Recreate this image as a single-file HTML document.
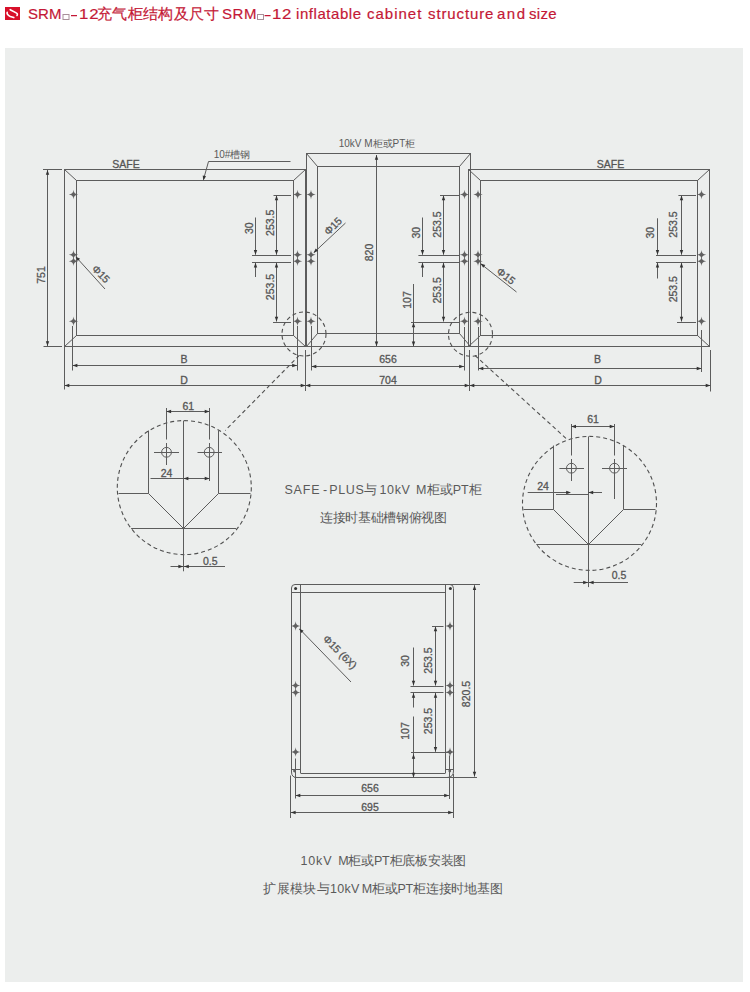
<!DOCTYPE html>
<html><head><meta charset="utf-8"><style>
html,body{margin:0;padding:0;background:#fff;width:750px;height:992px;overflow:hidden;}
body{position:relative;font-family:"Liberation Sans",sans-serif;}
.hdr{position:absolute;left:0;top:3px;font-size:14.5px;color:#c41836;-webkit-text-stroke:0.2px #c41836;white-space:nowrap;line-height:22px;}
.hdr span{position:absolute;top:0;}
svg.ico{position:absolute;left:0;top:0;}
svg.bxs{position:absolute;left:0;top:0;}
svg.bxs rect{fill:none;stroke:#a8909a;stroke-width:1;}
svg.bxs path.hy{fill:none;stroke:#c41836;stroke-width:1.4;}
.panel{position:absolute;left:5px;top:48px;width:738px;height:934px;background:#eceeed;}
svg{position:absolute;left:0;top:0;}
svg line,svg rect,svg polyline,svg path,svg circle{fill:none;stroke:#5c5c5c;stroke-width:1;}
svg .d{stroke-dasharray:4 3;stroke:#505050;stroke-width:1.1;}
svg .a{fill:#333;stroke:none;}
svg path.s{fill:#606060;stroke:none;}
svg circle.f{fill:#333;stroke:none;}
svg circle.f2{fill:#606060;stroke:none;}
svg text{font-family:"Liberation Sans",sans-serif;fill:#555;stroke:#555;stroke-width:0.3;text-anchor:middle;}
svg text.lb{fill:#5a5a5a;stroke:none;}
</style></head><body>
<svg class="ico" width="30" height="30" viewBox="0 0 30 30"><rect x="5" y="7" width="15" height="13" style="fill:#d8102a;stroke:none"/><path d="M10.2,9.7 L16.2,12.9 Q18.1,14.0 17.0,15.5 M7.2,12.3 Q6.4,14.5 10.3,16.5 L13.8,17.6" style="fill:none;stroke:#fff;stroke-width:1.6;stroke-linecap:round"/></svg>
<div class="hdr"><span style="left:28.0px;letter-spacing:0.1px;font-size:15px">SRM</span><span style="left:78.5px;letter-spacing:0.8px;font-size:15px;transform:scaleX(1.12);transform-origin:0 0">12</span><span style="left:97.0px;letter-spacing:0.314px;font-size:14.5px">充气柜结构及尺寸</span><span style="left:222.0px;letter-spacing:0.6px;font-size:15px">SRM</span><span style="left:272.2px;letter-spacing:0.6px;font-size:15px;transform:scaleX(1.12);transform-origin:0 0">12</span><span style="left:296.0px;letter-spacing:0.556px;font-size:15px">inflatable</span><span style="left:367.0px;letter-spacing:1.0px;font-size:15px">cabinet</span><span style="left:428.0px;letter-spacing:0.875px;font-size:15px">structure</span><span style="left:497.0px;letter-spacing:1.5px;font-size:15px">and</span><span style="left:529.0px;letter-spacing:0.333px;font-size:15px">size</span></div>
<svg class="bxs" width="300" height="30"><rect x="63" y="14.5" width="6" height="5" /><rect x="257.5" y="14.5" width="6" height="5"/><path class="hy" d="M71,15.6H77M264.6,15.6H270.6"/></svg>
<div class="panel"></div>
<svg width="750" height="992" viewBox="0 0 750 992">
<rect x="64.5" y="169.5" width="241.0" height="177.0"/>
<rect x="76.5" y="180.5" width="217.0" height="155.0"/>
<line x1="64.5" y1="169.5" x2="76.5" y2="180.5"/>
<line x1="305.5" y1="169.5" x2="293.5" y2="180.5"/>
<line x1="64.5" y1="346.5" x2="76.5" y2="335.5"/>
<line x1="305.5" y1="346.5" x2="293.5" y2="335.5"/>
<rect x="306.5" y="153.5" width="164.0" height="193.0"/>
<rect x="317.5" y="166.5" width="142.0" height="167.0"/>
<line x1="306.5" y1="153.5" x2="317.5" y2="166.5"/>
<line x1="470.5" y1="153.5" x2="459.5" y2="166.5"/>
<line x1="306.5" y1="346.5" x2="317.5" y2="333.5"/>
<line x1="470.5" y1="346.5" x2="459.5" y2="333.5"/>
<rect x="468.5" y="169.5" width="241.0" height="177.0"/>
<rect x="480.5" y="180.5" width="217.0" height="155.0"/>
<line x1="468.5" y1="169.5" x2="480.5" y2="180.5"/>
<line x1="709.5" y1="169.5" x2="697.5" y2="180.5"/>
<line x1="468.5" y1="346.5" x2="480.5" y2="335.5"/>
<line x1="709.5" y1="346.5" x2="697.5" y2="335.5"/>
<path class="s" d="M73.5,189.8 Q73.75,194.25 78.2,194.5 Q73.75,194.75 73.5,199.2 Q73.25,194.75 68.8,194.5 Q73.25,194.25 73.5,189.8Z"/><circle class="f2" cx="73.5" cy="194.5" r="1.25"/>
<path class="s" d="M73.5,250.0 Q73.75,254.45 78.2,254.7 Q73.75,254.95 73.5,259.4 Q73.25,254.95 68.8,254.7 Q73.25,254.45 73.5,250.0Z"/><circle class="f2" cx="73.5" cy="254.7" r="1.25"/>
<path class="s" d="M73.5,256.6 Q73.75,261.05 78.2,261.3 Q73.75,261.55 73.5,266.0 Q73.25,261.55 68.8,261.3 Q73.25,261.05 73.5,256.6Z"/><circle class="f2" cx="73.5" cy="261.3" r="1.25"/>
<path class="s" d="M73.5,316.5 Q73.75,320.95 78.2,321.2 Q73.75,321.45 73.5,325.9 Q73.25,321.45 68.8,321.2 Q73.25,320.95 73.5,316.5Z"/><circle class="f2" cx="73.5" cy="321.2" r="1.25"/>
<path class="s" d="M297.5,189.8 Q297.75,194.25 302.2,194.5 Q297.75,194.75 297.5,199.2 Q297.25,194.75 292.8,194.5 Q297.25,194.25 297.5,189.8Z"/><circle class="f2" cx="297.5" cy="194.5" r="1.25"/>
<path class="s" d="M297.5,250.0 Q297.75,254.45 302.2,254.7 Q297.75,254.95 297.5,259.4 Q297.25,254.95 292.8,254.7 Q297.25,254.45 297.5,250.0Z"/><circle class="f2" cx="297.5" cy="254.7" r="1.25"/>
<path class="s" d="M297.5,256.6 Q297.75,261.05 302.2,261.3 Q297.75,261.55 297.5,266.0 Q297.25,261.55 292.8,261.3 Q297.25,261.05 297.5,256.6Z"/><circle class="f2" cx="297.5" cy="261.3" r="1.25"/>
<path class="s" d="M297.5,316.5 Q297.75,320.95 302.2,321.2 Q297.75,321.45 297.5,325.9 Q297.25,321.45 292.8,321.2 Q297.25,320.95 297.5,316.5Z"/><circle class="f2" cx="297.5" cy="321.2" r="1.25"/>
<path class="s" d="M311,189.8 Q311.25,194.25 315.7,194.5 Q311.25,194.75 311,199.2 Q310.75,194.75 306.3,194.5 Q310.75,194.25 311,189.8Z"/><circle class="f2" cx="311" cy="194.5" r="1.25"/>
<path class="s" d="M311,250.0 Q311.25,254.45 315.7,254.7 Q311.25,254.95 311,259.4 Q310.75,254.95 306.3,254.7 Q310.75,254.45 311,250.0Z"/><circle class="f2" cx="311" cy="254.7" r="1.25"/>
<path class="s" d="M311,256.6 Q311.25,261.05 315.7,261.3 Q311.25,261.55 311,266.0 Q310.75,261.55 306.3,261.3 Q310.75,261.05 311,256.6Z"/><circle class="f2" cx="311" cy="261.3" r="1.25"/>
<path class="s" d="M311,316.5 Q311.25,320.95 315.7,321.2 Q311.25,321.45 311,325.9 Q310.75,321.45 306.3,321.2 Q310.75,320.95 311,316.5Z"/><circle class="f2" cx="311" cy="321.2" r="1.25"/>
<path class="s" d="M464.5,189.8 Q464.75,194.25 469.2,194.5 Q464.75,194.75 464.5,199.2 Q464.25,194.75 459.8,194.5 Q464.25,194.25 464.5,189.8Z"/><circle class="f2" cx="464.5" cy="194.5" r="1.25"/>
<path class="s" d="M464.5,250.0 Q464.75,254.45 469.2,254.7 Q464.75,254.95 464.5,259.4 Q464.25,254.95 459.8,254.7 Q464.25,254.45 464.5,250.0Z"/><circle class="f2" cx="464.5" cy="254.7" r="1.25"/>
<path class="s" d="M464.5,256.6 Q464.75,261.05 469.2,261.3 Q464.75,261.55 464.5,266.0 Q464.25,261.55 459.8,261.3 Q464.25,261.05 464.5,256.6Z"/><circle class="f2" cx="464.5" cy="261.3" r="1.25"/>
<path class="s" d="M464.5,316.5 Q464.75,320.95 469.2,321.2 Q464.75,321.45 464.5,325.9 Q464.25,321.45 459.8,321.2 Q464.25,320.95 464.5,316.5Z"/><circle class="f2" cx="464.5" cy="321.2" r="1.25"/>
<path class="s" d="M478,189.8 Q478.25,194.25 482.7,194.5 Q478.25,194.75 478,199.2 Q477.75,194.75 473.3,194.5 Q477.75,194.25 478,189.8Z"/><circle class="f2" cx="478" cy="194.5" r="1.25"/>
<path class="s" d="M478,250.0 Q478.25,254.45 482.7,254.7 Q478.25,254.95 478,259.4 Q477.75,254.95 473.3,254.7 Q477.75,254.45 478,250.0Z"/><circle class="f2" cx="478" cy="254.7" r="1.25"/>
<path class="s" d="M478,256.6 Q478.25,261.05 482.7,261.3 Q478.25,261.55 478,266.0 Q477.75,261.55 473.3,261.3 Q477.75,261.05 478,256.6Z"/><circle class="f2" cx="478" cy="261.3" r="1.25"/>
<path class="s" d="M478,316.5 Q478.25,320.95 482.7,321.2 Q478.25,321.45 478,325.9 Q477.75,321.45 473.3,321.2 Q477.75,320.95 478,316.5Z"/><circle class="f2" cx="478" cy="321.2" r="1.25"/>
<path class="s" d="M701.5,189.8 Q701.75,194.25 706.2,194.5 Q701.75,194.75 701.5,199.2 Q701.25,194.75 696.8,194.5 Q701.25,194.25 701.5,189.8Z"/><circle class="f2" cx="701.5" cy="194.5" r="1.25"/>
<path class="s" d="M701.5,250.0 Q701.75,254.45 706.2,254.7 Q701.75,254.95 701.5,259.4 Q701.25,254.95 696.8,254.7 Q701.25,254.45 701.5,250.0Z"/><circle class="f2" cx="701.5" cy="254.7" r="1.25"/>
<path class="s" d="M701.5,256.6 Q701.75,261.05 706.2,261.3 Q701.75,261.55 701.5,266.0 Q701.25,261.55 696.8,261.3 Q701.25,261.05 701.5,256.6Z"/><circle class="f2" cx="701.5" cy="261.3" r="1.25"/>
<path class="s" d="M701.5,316.5 Q701.75,320.95 706.2,321.2 Q701.75,321.45 701.5,325.9 Q701.25,321.45 696.8,321.2 Q701.25,320.95 701.5,316.5Z"/><circle class="f2" cx="701.5" cy="321.2" r="1.25"/>
<text class="t" x="126" y="167.68" style="font-size:10.5px">SAFE</text>
<text class="t" x="610.5" y="167.68" style="font-size:10.5px">SAFE</text>
<text class="lb" x="377" y="146.50" style="font-size:10px">10kV M柜或PT柜</text>
<text class="lb" x="232" y="157.50" style="font-size:10px">10#槽钢</text>
<polyline points="290.5,161.5 208.5,161.5 203.5,179.5"/>
<polygon class="a" points="203.30,180.50 202.72,175.44 206.04,176.21"/>
<line x1="43" y1="169.5" x2="62" y2="169.5"/>
<line x1="43.5" y1="346.5" x2="62" y2="346.5"/>
<line x1="47.5" y1="170" x2="47.5" y2="346"/>
<polygon class="a" points="47.50,170.00 49.20,174.80 45.80,174.80"/>
<polygon class="a" points="47.50,346.00 45.80,341.20 49.20,341.20"/>
<text class="t" transform="translate(41,275) rotate(-90)" x="0" y="3.67" style="font-size:10.5px">751</text>
<line x1="76" y1="257" x2="105" y2="289"/>
<polygon class="a" points="75.50,256.50 80.10,258.69 77.69,261.10"/>
<text class="t" transform="translate(101,274) rotate(45)" x="0" y="3.67" style="font-size:10.5px">Φ15</text>
<line x1="273.5" y1="195.5" x2="291" y2="195.5"/>
<line x1="252" y1="255.5" x2="291" y2="255.5"/>
<line x1="252" y1="262.5" x2="291" y2="262.5"/>
<line x1="273" y1="322.5" x2="291" y2="322.5"/>
<line x1="276.5" y1="195.5" x2="276.5" y2="254.7"/>
<polygon class="a" points="276.50,195.50 278.20,200.30 274.80,200.30"/>
<polygon class="a" points="276.50,254.70 274.80,249.90 278.20,249.90"/>
<line x1="255.5" y1="217.5" x2="255.5" y2="254.7"/>
<polygon class="a" points="255.50,254.70 253.80,249.90 257.20,249.90"/>
<line x1="255.5" y1="262.8" x2="255.5" y2="277"/>
<polygon class="a" points="255.50,262.80 257.20,267.60 253.80,267.60"/>
<line x1="276.5" y1="262.8" x2="276.5" y2="321.5"/>
<polygon class="a" points="276.50,262.80 278.20,267.60 274.80,267.60"/>
<polygon class="a" points="276.50,321.50 274.80,316.70 278.20,316.70"/>
<text class="t" transform="translate(249,228.2) rotate(-90)" x="0" y="3.67" style="font-size:10.5px">30</text>
<text class="t" transform="translate(270,222.8) rotate(-90)" x="0" y="3.67" style="font-size:10.5px">253.5</text>
<text class="t" transform="translate(270,287) rotate(-90)" x="0" y="3.67" style="font-size:10.5px">253.5</text>
<line x1="440" y1="195.5" x2="459.5" y2="195.5"/>
<line x1="418.4" y1="255.5" x2="459.5" y2="255.5"/>
<line x1="418.4" y1="262.5" x2="459.5" y2="262.5"/>
<line x1="411" y1="322.5" x2="459.5" y2="322.5"/>
<line x1="443.5" y1="195.5" x2="443.5" y2="254.7"/>
<polygon class="a" points="443.50,195.50 445.20,200.30 441.80,200.30"/>
<polygon class="a" points="443.50,254.70 441.80,249.90 445.20,249.90"/>
<line x1="422.5" y1="217.5" x2="422.5" y2="254.7"/>
<polygon class="a" points="422.50,254.70 420.80,249.90 424.20,249.90"/>
<line x1="422.5" y1="262.8" x2="422.5" y2="277"/>
<polygon class="a" points="422.50,262.80 424.20,267.60 420.80,267.60"/>
<line x1="443.5" y1="262.8" x2="443.5" y2="321.5"/>
<polygon class="a" points="443.50,262.80 445.20,267.60 441.80,267.60"/>
<polygon class="a" points="443.50,321.50 441.80,316.70 445.20,316.70"/>
<text class="t" transform="translate(416,232.7) rotate(-90)" x="0" y="3.67" style="font-size:10.5px">30</text>
<text class="t" transform="translate(437.8,224.5) rotate(-90)" x="0" y="3.67" style="font-size:10.5px">253.5</text>
<text class="t" transform="translate(437.8,290.4) rotate(-90)" x="0" y="3.67" style="font-size:10.5px">253.5</text>
<line x1="678.4" y1="195.5" x2="696" y2="195.5"/>
<line x1="656" y1="255.5" x2="696" y2="255.5"/>
<line x1="656" y1="262.5" x2="696" y2="262.5"/>
<line x1="677" y1="322.5" x2="696" y2="322.5"/>
<line x1="681.5" y1="195.5" x2="681.5" y2="254.7"/>
<polygon class="a" points="681.50,195.50 683.20,200.30 679.80,200.30"/>
<polygon class="a" points="681.50,254.70 679.80,249.90 683.20,249.90"/>
<line x1="657.5" y1="218.3" x2="657.5" y2="254.7"/>
<polygon class="a" points="657.50,254.70 655.80,249.90 659.20,249.90"/>
<line x1="657.5" y1="262.8" x2="657.5" y2="278.5"/>
<polygon class="a" points="657.50,262.80 659.20,267.60 655.80,267.60"/>
<line x1="681.5" y1="262.8" x2="681.5" y2="321.5"/>
<polygon class="a" points="681.50,262.80 683.20,267.60 679.80,267.60"/>
<polygon class="a" points="681.50,321.50 679.80,316.70 683.20,316.70"/>
<text class="t" transform="translate(650,232.7) rotate(-90)" x="0" y="3.67" style="font-size:10.5px">30</text>
<text class="t" transform="translate(673.6,224.5) rotate(-90)" x="0" y="3.67" style="font-size:10.5px">253.5</text>
<text class="t" transform="translate(673.6,289.2) rotate(-90)" x="0" y="3.67" style="font-size:10.5px">253.5</text>
<line x1="413.5" y1="284" x2="413.5" y2="346.5"/>
<polygon class="a" points="413.50,322.50 415.20,327.30 411.80,327.30"/>
<polygon class="a" points="413.50,346.30 411.80,341.50 415.20,341.50"/>
<text class="t" transform="translate(407,300) rotate(-90)" x="0" y="3.67" style="font-size:10.5px">107</text>
<line x1="376.5" y1="155" x2="376.5" y2="346.3"/>
<polygon class="a" points="376.50,155.00 378.20,159.80 374.80,159.80"/>
<polygon class="a" points="376.50,346.30 374.80,341.50 378.20,341.50"/>
<text class="t" transform="translate(369,252.5) rotate(-90)" x="0" y="3.67" style="font-size:10.5px">820</text>
<line x1="314" y1="252.5" x2="345.5" y2="223"/>
<polygon class="a" points="313.50,253.00 315.69,248.40 318.10,250.81"/>
<text class="t" transform="translate(333,226) rotate(-45)" x="0" y="3.67" style="font-size:10.5px">Φ15</text>
<line x1="481" y1="264" x2="516.5" y2="292"/>
<polygon class="a" points="480.50,263.50 485.33,265.12 483.24,267.79"/>
<text class="t" transform="translate(506,276) rotate(38)" x="0" y="3.67" style="font-size:10.5px">Φ15</text>
<line x1="64.5" y1="346.5" x2="64.5" y2="389.5"/>
<line x1="72.5" y1="326" x2="72.5" y2="370.5"/>
<line x1="297.5" y1="326" x2="297.5" y2="370.5"/>
<line x1="305.5" y1="350" x2="305.5" y2="391"/>
<line x1="311.5" y1="326" x2="311.5" y2="370.5"/>
<line x1="464.5" y1="327" x2="464.5" y2="370.5"/>
<line x1="469.5" y1="350" x2="469.5" y2="391"/>
<line x1="478.5" y1="327" x2="478.5" y2="370.5"/>
<line x1="701.5" y1="330" x2="701.5" y2="372"/>
<line x1="710.5" y1="350" x2="710.5" y2="391.5"/>
<line x1="72.6" y1="365.5" x2="297" y2="365.5"/>
<polygon class="a" points="72.60,365.50 77.40,363.80 77.40,367.20"/>
<polygon class="a" points="297.00,365.50 292.20,367.20 292.20,363.80"/>
<text class="t" x="184" y="363.18" style="font-size:10.5px">B</text>
<line x1="64.5" y1="385.5" x2="305.5" y2="385.5"/>
<polygon class="a" points="64.50,385.50 69.30,383.80 69.30,387.20"/>
<polygon class="a" points="305.50,385.50 300.70,387.20 300.70,383.80"/>
<text class="t" x="184" y="383.68" style="font-size:10.5px">D</text>
<line x1="311.5" y1="366.5" x2="464" y2="366.5"/>
<polygon class="a" points="311.50,366.50 316.30,364.80 316.30,368.20"/>
<polygon class="a" points="464.00,366.50 459.20,368.20 459.20,364.80"/>
<text class="t" x="388" y="363.18" style="font-size:10.5px">656</text>
<line x1="305.5" y1="385.5" x2="469.5" y2="385.5"/>
<polygon class="a" points="305.50,385.50 310.30,383.80 310.30,387.20"/>
<polygon class="a" points="469.50,385.50 464.70,387.20 464.70,383.80"/>
<text class="t" x="388" y="383.68" style="font-size:10.5px">704</text>
<line x1="478.5" y1="368.5" x2="701.5" y2="368.5"/>
<polygon class="a" points="478.50,368.50 483.30,366.80 483.30,370.20"/>
<polygon class="a" points="701.50,368.50 696.70,370.20 696.70,366.80"/>
<text class="t" x="597.5" y="363.18" style="font-size:10.5px">B</text>
<line x1="469.5" y1="385.5" x2="710.5" y2="385.5"/>
<polygon class="a" points="469.50,385.50 474.30,383.80 474.30,387.20"/>
<polygon class="a" points="710.50,385.50 705.70,387.20 705.70,383.80"/>
<text class="t" x="598" y="383.68" style="font-size:10.5px">D</text>
<circle class="d" cx="304" cy="334" r="22"/>
<circle class="d" cx="470.5" cy="334.3" r="22"/>
<line class="d" x1="299.3" y1="355.3" x2="225.2" y2="430.5"/>
<line class="d" x1="475" y1="355.5" x2="567.8" y2="440"/>
<circle class="d" cx="184.3" cy="487.6" r="67"/>
<line x1="183.5" y1="420.6" x2="183.5" y2="571.3000000000001"/>
<polyline points="118.5,493.5 148.5,493.5 148.5,430.5"/>
<polyline points="250.5,493.5 218.5,493.5 218.5,430.5"/>
<polyline points="148.5,493.5 183.5,528.5 218.5,493.5"/>
<line x1="131.10000000000002" y1="528.5" x2="236.10000000000002" y2="528.5"/>
<circle cx="166.5" cy="452.3" r="4.9"/>
<circle cx="209.2" cy="452.3" r="4.9"/>
<line x1="154" y1="452.5" x2="179" y2="452.5"/>
<line x1="197.5" y1="452.5" x2="222" y2="452.5"/>
<line x1="166.5" y1="408" x2="166.5" y2="439.5"/>
<line x1="166.5" y1="443" x2="166.5" y2="465"/>
<line x1="209.5" y1="408" x2="209.5" y2="439.5"/>
<line x1="209.5" y1="443" x2="209.5" y2="481"/>
<line x1="166.3" y1="411.5" x2="209.5" y2="411.5"/>
<polygon class="a" points="166.30,411.50 171.10,409.80 171.10,413.20"/>
<polygon class="a" points="209.50,411.50 204.70,413.20 204.70,409.80"/>
<text class="t" x="188.3" y="410.18" style="font-size:10.5px">61</text>
<line x1="150.5" y1="478.5" x2="210" y2="478.5"/>
<polygon class="a" points="183.60,478.50 188.40,476.80 188.40,480.20"/>
<polygon class="a" points="209.50,478.50 204.70,480.20 204.70,476.80"/>
<text class="t" x="166.5" y="476.68" style="font-size:10.5px">24</text>
<line x1="170.5" y1="566.5" x2="225" y2="566.5"/>
<polygon class="a" points="183.20,566.50 178.40,568.20 178.40,564.80"/>
<polygon class="a" points="184.00,566.50 188.80,564.80 188.80,568.20"/>
<text class="t" x="210.3" y="564.67" style="font-size:10.5px">0.5</text>
<circle class="d" cx="589.5" cy="503.4" r="67"/>
<line x1="588.5" y1="436.4" x2="588.5" y2="587.1"/>
<polyline points="523.5,509.5 553.5,509.5 553.5,445.5"/>
<polyline points="655.5,509.5 623.5,509.5 623.5,445.5"/>
<polyline points="553.5,509.5 588.5,544.5 623.5,509.5"/>
<line x1="536.3" y1="544.5" x2="641.3" y2="544.5"/>
<circle cx="571.4" cy="468.2" r="4.9"/>
<circle cx="614.5" cy="468.2" r="4.9"/>
<line x1="559.4" y1="468.5" x2="584" y2="468.5"/>
<line x1="602" y1="468.5" x2="627" y2="468.5"/>
<line x1="571.5" y1="424" x2="571.5" y2="455.5"/>
<line x1="571.5" y1="459" x2="571.5" y2="481"/>
<line x1="614.5" y1="424" x2="614.5" y2="455.5"/>
<line x1="614.5" y1="459" x2="614.5" y2="499"/>
<line x1="571.2" y1="426.5" x2="614.5" y2="426.5"/>
<polygon class="a" points="571.20,426.50 576.00,424.80 576.00,428.20"/>
<polygon class="a" points="614.50,426.50 609.70,428.20 609.70,424.80"/>
<text class="t" x="593" y="423.18" style="font-size:10.5px">61</text>
<line x1="527.7" y1="492.5" x2="568" y2="492.5"/>
<polygon class="a" points="571.00,492.50 566.20,494.20 566.20,490.80"/>
<line x1="588.4" y1="492.5" x2="602" y2="492.5"/>
<polygon class="a" points="588.40,492.50 593.20,490.80 593.20,494.20"/>
<line x1="556" y1="494.5" x2="588.4" y2="494.5"/>
<text class="t" x="543" y="490.18" style="font-size:10.5px">24</text>
<line x1="573.7" y1="582.5" x2="628" y2="582.5"/>
<polygon class="a" points="588.00,582.50 583.20,584.20 583.20,580.80"/>
<polygon class="a" points="588.80,582.50 593.60,580.80 593.60,584.20"/>
<text class="t" x="619" y="579.17" style="font-size:10.5px">0.5</text>
<text class="lb" x="302.0" y="494.38" textLength="35.05" lengthAdjust="spacing" style="font-size:12.5px">SAFE</text>
<text class="lb" x="325.1" y="494.38" textLength="11.45" lengthAdjust="spacing" style="font-size:12.5px">-</text>
<text class="lb" x="353.35" y="494.38" textLength="48.15" lengthAdjust="spacing" style="font-size:12.5px">PLUS与</text>
<text class="lb" x="394.65" y="494.38" textLength="30.55" lengthAdjust="spacing" style="font-size:12.5px">10kV</text>
<text class="lb" x="448.95" y="494.38" textLength="65.75" lengthAdjust="spacing" style="font-size:12.5px">M柜或PT柜</text>
<text class="lb" x="383.5" y="522.38" textLength="126.42" lengthAdjust="spacing" style="font-size:12.5px">连接时基础槽钢俯视图</text>
<path d="M297,777.5 Q291.5,777.5 291.5,772 L291.5,588 Q291.5,584.5 295,584.5 L480,584.5"/>
<line x1="291.5" y1="769.5" x2="300.5" y2="769.5"/>
<line x1="445.5" y1="769.5" x2="453.5" y2="769.5"/>
<line x1="300.5" y1="584.5" x2="300.5" y2="773"/>
<line x1="291.5" y1="592.5" x2="445.5" y2="592.5"/>
<line x1="300.5" y1="773.5" x2="445.5" y2="773.5"/>
<path d="M445.5,584.5 L445.5,773"/>
<path d="M450,584.5 Q453.5,584.5 453.5,588.5 L453.5,771 Q453.5,777.5 447,777.5 L294.5,777.5"/>
<line x1="297" y1="777.5" x2="477" y2="777.5"/>
<circle class="f" cx="295.6" cy="588.4" r="1.5"/>
<circle class="f" cx="450.4" cy="588.4" r="1.5"/>
<circle class="f2" cx="449.8" cy="771" r="1.4"/>
<circle class="f2" cx="294.5" cy="771" r="1.4"/>
<path class="s" d="M295.6,621.3 Q295.85,625.75 300.3,626 Q295.85,626.25 295.6,630.7 Q295.35,626.25 290.90000000000003,626 Q295.35,625.75 295.6,621.3Z"/><circle class="f2" cx="295.6" cy="626" r="1.25"/>
<path class="s" d="M450,621.3 Q450.25,625.75 454.7,626 Q450.25,626.25 450,630.7 Q449.75,626.25 445.3,626 Q449.75,625.75 450,621.3Z"/><circle class="f2" cx="450" cy="626" r="1.25"/>
<path class="s" d="M295.6,680.8 Q295.85,685.25 300.3,685.5 Q295.85,685.75 295.6,690.2 Q295.35,685.75 290.90000000000003,685.5 Q295.35,685.25 295.6,680.8Z"/><circle class="f2" cx="295.6" cy="685.5" r="1.25"/>
<path class="s" d="M450,680.8 Q450.25,685.25 454.7,685.5 Q450.25,685.75 450,690.2 Q449.75,685.75 445.3,685.5 Q449.75,685.25 450,680.8Z"/><circle class="f2" cx="450" cy="685.5" r="1.25"/>
<path class="s" d="M295.6,687.8 Q295.85,692.25 300.3,692.5 Q295.85,692.75 295.6,697.2 Q295.35,692.75 290.90000000000003,692.5 Q295.35,692.25 295.6,687.8Z"/><circle class="f2" cx="295.6" cy="692.5" r="1.25"/>
<path class="s" d="M450,687.8 Q450.25,692.25 454.7,692.5 Q450.25,692.75 450,697.2 Q449.75,692.75 445.3,692.5 Q449.75,692.25 450,687.8Z"/><circle class="f2" cx="450" cy="692.5" r="1.25"/>
<path class="s" d="M295.6,747.3 Q295.85,751.75 300.3,752 Q295.85,752.25 295.6,756.7 Q295.35,752.25 290.90000000000003,752 Q295.35,751.75 295.6,747.3Z"/><circle class="f2" cx="295.6" cy="752" r="1.25"/>
<path class="s" d="M450,747.3 Q450.25,751.75 454.7,752 Q450.25,752.25 450,756.7 Q449.75,752.25 445.3,752 Q449.75,751.75 450,747.3Z"/><circle class="f2" cx="450" cy="752" r="1.25"/>
<line x1="299.6" y1="629" x2="351" y2="682"/>
<polygon class="a" points="299.00,628.50 303.60,630.69 301.19,633.10"/>
<text class="t" transform="translate(340,652) rotate(45)" x="0" y="3.67" style="font-size:10.5px">Φ15 (6X)</text>
<line x1="432" y1="626.5" x2="443.5" y2="626.5"/>
<line x1="410.5" y1="686.5" x2="443.5" y2="686.5"/>
<line x1="410.5" y1="692.5" x2="443.5" y2="692.5"/>
<line x1="411" y1="752.5" x2="450" y2="752.5"/>
<line x1="435.5" y1="626.5" x2="435.5" y2="685.5"/>
<polygon class="a" points="435.50,626.50 437.20,631.30 433.80,631.30"/>
<polygon class="a" points="435.50,685.50 433.80,680.70 437.20,680.70"/>
<line x1="413.5" y1="647.5" x2="413.5" y2="685.5"/>
<polygon class="a" points="413.50,685.50 411.80,680.70 415.20,680.70"/>
<line x1="413.5" y1="693" x2="413.5" y2="707.5"/>
<polygon class="a" points="413.50,693.00 415.20,697.80 411.80,697.80"/>
<line x1="435.5" y1="693" x2="435.5" y2="751.8"/>
<polygon class="a" points="435.50,693.00 437.20,697.80 433.80,697.80"/>
<polygon class="a" points="435.50,751.80 433.80,747.00 437.20,747.00"/>
<line x1="413.5" y1="716.5" x2="413.5" y2="777.5"/>
<polygon class="a" points="413.50,754.00 415.20,758.80 411.80,758.80"/>
<polygon class="a" points="413.50,777.50 411.80,772.70 415.20,772.70"/>
<text class="t" transform="translate(405.5,661) rotate(-90)" x="0" y="3.67" style="font-size:10.5px">30</text>
<text class="t" transform="translate(428,660.5) rotate(-90)" x="0" y="3.67" style="font-size:10.5px">253.5</text>
<text class="t" transform="translate(428,721) rotate(-90)" x="0" y="3.67" style="font-size:10.5px">253.5</text>
<text class="t" transform="translate(405,731) rotate(-90)" x="0" y="3.67" style="font-size:10.5px">107</text>
<line x1="474.5" y1="585.2" x2="474.5" y2="776.6"/>
<polygon class="a" points="474.50,585.20 476.20,590.00 472.80,590.00"/>
<polygon class="a" points="474.50,776.60 472.80,771.80 476.20,771.80"/>
<text class="t" transform="translate(466,694) rotate(-90)" x="0" y="3.67" style="font-size:10.5px">820.5</text>
<line x1="295.5" y1="758.5" x2="295.5" y2="798.5"/>
<line x1="449.5" y1="755.5" x2="449.5" y2="799"/>
<line x1="290.5" y1="775.5" x2="290.5" y2="818"/>
<line x1="453.5" y1="774" x2="453.5" y2="818"/>
<line x1="295.5" y1="795.5" x2="449" y2="795.5"/>
<polygon class="a" points="295.50,795.50 300.30,793.80 300.30,797.20"/>
<polygon class="a" points="449.00,795.50 444.20,797.20 444.20,793.80"/>
<text class="t" x="370" y="792.17" style="font-size:10.5px">656</text>
<line x1="290.8" y1="812.5" x2="453" y2="812.5"/>
<polygon class="a" points="290.80,812.50 295.60,810.80 295.60,814.20"/>
<polygon class="a" points="453.00,812.50 448.20,814.20 448.20,810.80"/>
<text class="t" x="370" y="810.97" style="font-size:10.5px">695</text>
<text class="lb" x="316.0" y="865.38" textLength="31.25" lengthAdjust="spacing" style="font-size:12.5px">10kV</text>
<text class="lb" x="402.3" y="865.38" textLength="128.25" lengthAdjust="spacing" style="font-size:12.5px">M柜或PT柜底板安装图</text>
<text class="lb" x="311.3" y="892.88" textLength="96.25" lengthAdjust="spacing" style="font-size:12.5px">扩展模块与10kV</text>
<text class="lb" x="432.25" y="892.88" textLength="141.15" lengthAdjust="spacing" style="font-size:12.5px">M柜或PT柜连接时地基图</text>
</svg>
</body></html>
